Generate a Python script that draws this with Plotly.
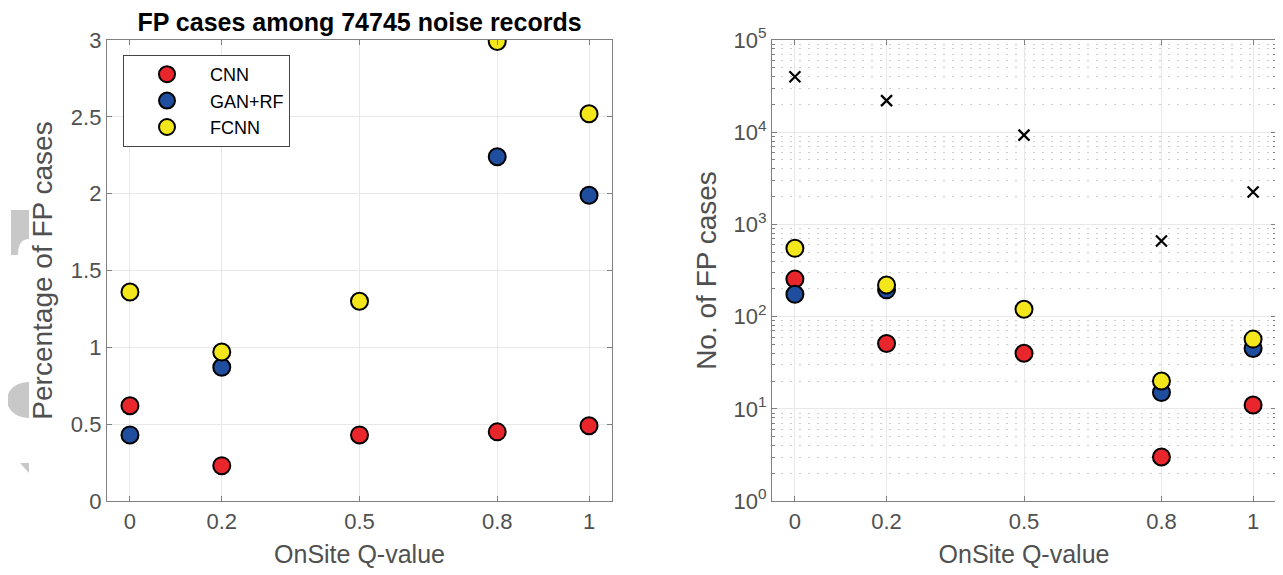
import plotly.graph_objects as go
from plotly.subplots import make_subplots

# ---- data ----
q_values = [0, 0.2, 0.5, 0.8, 1]
q_labels = ["0", "0.2", "0.5", "0.8", "1"]
series_names = ["CNN", "GAN+RF", "FCNN"]
series_colors = ["#e8262b", "#1f4e9f", "#f3e61a"]

pct_cnn = [0.62, 0.23, 0.43, 0.45, 0.49]
pct_gan = [0.43, 0.87, None, 2.24, 1.99]
pct_fcnn = [1.36, 0.97, 1.30, 2.99, 2.52]

cnt_cnn = [255, 51, 40, 3, 11]
cnt_gan = [175, 195, None, 15, 45]
cnt_fcnn = [550, 220, 120, 20, 57]
cnt_noise = [40000, 22000, 9300, 660, 2250]

left_yticks = [0, 0.5, 1, 1.5, 2, 2.5, 3]
log_tickvals = [1, 10, 100, 1000, 10000, 100000]
log_ticktext = ["10<sup>0</sup>", "10<sup>1</sup>", "10<sup>2</sup>",
                "10<sup>3</sup>", "10<sup>4</sup>", "10<sup>5</sup>"]

# page has an 8px body margin; figure is sized to fit the 1283x575 window
OFF = 8
W, H = 1283 - OFF, 575 - OFF
FONT = "Liberation Sans, Arial, Helvetica, sans-serif"
GREY = "#505050"

fig = make_subplots(rows=1, cols=2)

pct_data = [pct_cnn, pct_gan, pct_fcnn]
cnt_data = [cnt_cnn, cnt_gan, cnt_fcnn]

marker_line = dict(color="black", width=2)
for name, col, ys in zip(series_names, series_colors, pct_data):
    fig.add_trace(go.Scatter(x=q_values, y=ys, mode="markers", name=name,
                             marker=dict(size=17, color=col, line=marker_line),
                             legendgroup=name, showlegend=True), row=1, col=1)

fig.add_trace(go.Scatter(x=q_values, y=cnt_noise, mode="markers", name="noise",
                         marker=dict(symbol="x-thin", size=11, color="black",
                                     line=dict(color="black", width=2.2)),
                         showlegend=False), row=1, col=2)
for name, col, ys in zip(series_names, series_colors, cnt_data):
    fig.add_trace(go.Scatter(x=q_values, y=ys, mode="markers", name=name,
                             marker=dict(size=17, color=col, line=marker_line),
                             legendgroup=name, showlegend=False), row=1, col=2)


def px_x(x):
    return (x - OFF) / W


def px_y(y):
    return 1 - (y - OFF) / H


dom_y = [px_y(501), px_y(40)]
common_axis = dict(showline=True, linecolor="#808080", linewidth=1.3, mirror="allticks",
                   ticks="inside", ticklen=5, tickcolor="#808080",
                   tickfont=dict(family=FONT, size=22, color=GREY),
                   gridcolor="#e8e8e8", gridwidth=1, zeroline=False)

xtitle_font = dict(family=FONT, size=25, color=GREY)
ytitle_font = dict(family=FONT, size=28, color=GREY)

fig.update_xaxes(domain=[px_x(107), px_x(612)], range=[-0.05, 1.05],
                 tickvals=q_values, ticktext=q_labels,
                 title=dict(text="OnSite Q-value", font=xtitle_font, standoff=12),
                 row=1, col=1, **common_axis)
fig.update_xaxes(domain=[px_x(772), px_x(1276)], range=[-0.05, 1.05],
                 tickvals=q_values, ticktext=q_labels,
                 title=dict(text="OnSite Q-value", font=xtitle_font, standoff=12),
                 row=1, col=2, **common_axis)
fig.update_yaxes(domain=dom_y, range=[0, 3], tickvals=left_yticks,
                 title=dict(text="Percentage of FP cases", font=ytitle_font, standoff=10),
                 row=1, col=1, **common_axis)

minor_vals = [k * 10 ** d for d in range(0, 5) for k in range(2, 10)]
fig.update_yaxes(domain=dom_y, type="log", range=[0, 5],
                 tickvals=log_tickvals, ticktext=log_ticktext,
                 minor=dict(tickvals=minor_vals, ticks="inside", ticklen=3, tickcolor="#808080",
                            showgrid=True, gridcolor="#cccccc", griddash="1.5px,7.5px", gridwidth=1.2),
                 title=dict(text="No. of FP cases", font=ytitle_font, standoff=8),
                 row=1, col=2, **common_axis)

# faint grey artifacts at the left edge of the original image
art = "#c8c8c8"
fig.add_shape(type="path", xref="paper", yref="paper", line=dict(width=0), fillcolor=art,
              path=(f"M {px_x(11)},{px_y(210)} L {px_x(29)},{px_y(210)} L {px_x(29)},{px_y(239)} "
                    f"Q {px_x(18)},{px_y(239)} {px_x(18)},{px_y(255)} L {px_x(11)},{px_y(255)} Z"))
fig.add_shape(type="path", xref="paper", yref="paper", line=dict(width=0), fillcolor=art,
              path=(f"M {px_x(29)},{px_y(382)} C {px_x(16)},{px_y(382)} {px_x(7)},{px_y(390)} "
                    f"{px_x(7)},{px_y(400)} C {px_x(7)},{px_y(410)} {px_x(16)},{px_y(418)} "
                    f"{px_x(29)},{px_y(418)} Z"))
fig.add_shape(type="path", xref="paper", yref="paper", line=dict(width=0), fillcolor=art,
              path=f"M {px_x(20)},{px_y(463)} L {px_x(29)},{px_y(463)} L {px_x(29)},{px_y(473)} Z")

fig.update_layout(
    width=W, height=H,
    margin=dict(l=0, r=0, t=0, b=0, autoexpand=False),
    paper_bgcolor="white", plot_bgcolor="white",
    title=dict(text="<b>FP cases among 74745 noise records</b>",
               font=dict(family=FONT, size=25, color="black"),
               x=px_x(359.5), xanchor="center", xref="paper",
               y=px_y(22), yanchor="middle", yref="paper"),
    legend=dict(x=px_x(123), y=px_y(55), xanchor="left", yanchor="top",
                bgcolor="white", bordercolor="#444444", borderwidth=1,
                font=dict(family=FONT, size=18, color="black"),
                itemwidth=76, tracegroupgap=0),
    showlegend=True,
)

fig.write_html("out.html")
